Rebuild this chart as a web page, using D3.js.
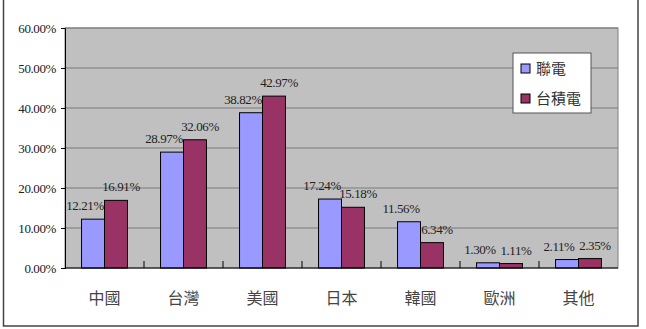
<!DOCTYPE html>
<html>
<head>
<meta charset="utf-8">
<script src="https://cdn.jsdelivr.net/npm/d3@7"></script>
<style>
  body { margin: 0; background: #fff; }
  svg { display: block; }
  .num { font-family: "Liberation Serif", "Times New Roman", serif; font-size: 13px; letter-spacing: -0.4px; }
  .cjk { font-family: "Noto Sans CJK TC", sans-serif; }
</style>
</head>
<body>
<svg id="chart" width="646" height="329"></svg>
<script>
// data
const regions = ["中國", "台灣", "美國", "日本", "韓國", "歐洲", "其他"];
const seriesNames = ["聯電", "台積電"];
const umc = [12.21, 28.97, 38.82, 17.24, 11.56, 1.30, 2.11];
const tsmc = [16.91, 32.06, 42.97, 15.18, 6.34, 1.11, 2.35];
const yTicks = [0, 10, 20, 30, 40, 50, 60];

const colors = ["#9999FF", "#993366"];
const series = [umc, tsmc];

const svg = d3.select("#chart");
const margin = { top: 28, right: 28, bottom: 61, left: 65 };
const width = 646 - margin.left - margin.right;
const height = 329 - margin.top - margin.bottom;

// outer frame
svg.append("rect")
  .attr("x", 3.5).attr("y", -2)
  .attr("width", 634.5).attr("height", 328)
  .attr("fill", "none")
  .attr("stroke", "#444")
  .attr("stroke-width", 1.5);

const g = svg.append("g").attr("transform", `translate(${margin.left},${margin.top})`);

const x = d3.scaleBand().domain(regions).range([0, width]);
const xs = d3.scaleBand().domain(d3.range(series.length))
  .range([0, x.bandwidth()]).paddingOuter(0.72).paddingInner(0);
const y = d3.scaleLinear().domain([0, 60]).range([height, 0]);

// plot area
g.append("rect")
  .attr("width", width).attr("height", height)
  .attr("fill", "#C0C0C0")
  .attr("stroke", "#808080");

// gridlines
g.selectAll("line.grid")
  .data(yTicks.filter(t => t > 0))
  .join("line")
  .attr("class", "grid")
  .attr("x1", 0).attr("x2", width)
  .attr("y1", d => y(d)).attr("y2", d => y(d))
  .attr("stroke", "#7a7a7a");

// y axis
const yAxis = g.append("g")
  .call(d3.axisLeft(y).tickValues(yTicks).tickSize(4).tickFormat(d => d.toFixed(2) + "%"));
yAxis.attr("font-family", null).attr("font-size", null);
yAxis.select(".domain").attr("stroke", "#000");
yAxis.selectAll("text")
  .attr("class", "num")
  .attr("x", -9)
  .attr("fill", "#222");

// bars
series.forEach((vals, si) => {
  g.append("g")
    .selectAll("rect")
    .data(vals)
    .join("rect")
    .attr("x", (d, i) => x(regions[i]) + xs(si))
    .attr("y", d => y(d))
    .attr("width", xs.bandwidth())
    .attr("height", d => height - y(d))
    .attr("fill", colors[si])
    .attr("stroke", "#000")
    .attr("stroke-width", 1);
});

// x axis (ticks inside, at band edges)
g.append("line")
  .attr("x1", 0).attr("x2", width)
  .attr("y1", height).attr("y2", height)
  .attr("stroke", "#000");
g.selectAll("line.xtick")
  .data(regions.slice(1))
  .join("line")
  .attr("class", "xtick")
  .attr("x1", d => x(d)).attr("x2", d => x(d))
  .attr("y1", height).attr("y2", height - 7)
  .attr("stroke", "#000");

g.selectAll("text.cat")
  .data(regions)
  .join("text")
  .attr("class", "cjk")
  .attr("x", d => x(d) + x.bandwidth() / 2)
  .attr("y", height + 36)
  .attr("text-anchor", "middle")
  .style("font-size", "16px")
  .attr("fill", "#444")
  .text(d => d);

// value labels
series.forEach((vals, si) => {
  g.append("g")
    .selectAll("text")
    .data(vals)
    .join("text")
    .attr("class", "num")
    .attr("x", (d, i) => x(regions[i]) + xs(si) + xs.bandwidth() / 2 + (si === 0 ? -8 : 5))
    .attr("y", d => y(d) - 9)
    .attr("text-anchor", "middle")
    .attr("fill", "#222")
    .text(d => d.toFixed(2) + "%");
});

// legend
const legend = svg.append("g").attr("transform", "translate(513,53)");
legend.append("rect")
  .attr("width", 78).attr("height", 60)
  .attr("fill", "#fff")
  .attr("stroke", "#555");
seriesNames.forEach((name, i) => {
  const row = legend.append("g").attr("transform", `translate(8,${11 + i * 30})`);
  row.append("rect")
    .attr("width", 9).attr("height", 9)
    .attr("fill", colors[i])
    .attr("stroke", "#000");
  row.append("text")
    .attr("class", "cjk")
    .attr("x", 15).attr("y", 10)
    .style("font-size", "15px")
    .attr("fill", "#333")
    .text(name);
});
</script>
</body>
</html>
